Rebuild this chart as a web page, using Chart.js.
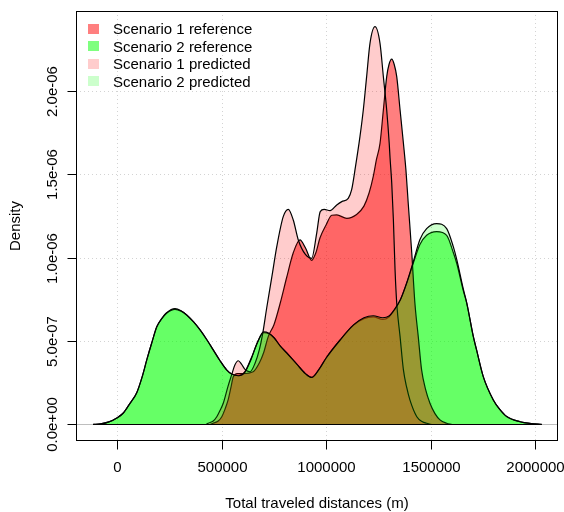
<!DOCTYPE html>
<html>
<head>
<meta charset="utf-8">
<script src="https://cdn.jsdelivr.net/npm/chart.js@4.4.1/dist/chart.umd.min.js"></script>
<style>
  html, body { margin: 0; padding: 0; background: #fff; }
</style>
</head>
<body>
<canvas id="densityChart" width="564" height="512"></canvas>
<script>
// distances in metres, densities in units of 1e-7 per metre
var DENSITY_UNIT = 1e-7;

var s1RefX = [445000, 459000, 483000, 500000, 515000, 531000, 545000, 555000, 575000, 600000,
    650000, 680000, 700000, 723000, 750000, 780000, 810000, 842000, 874000, 900000,
    930000, 950000, 970000, 1000000, 1026000, 1050000, 1098000, 1145000, 1180000, 1205000,
    1225000, 1240000, 1257000, 1273000, 1289000, 1300000, 1313000, 1325000, 1337000, 1353000,
    1369000, 1381000, 1392000, 1409000, 1424000, 1440000, 1456000, 1475000, 1496000, 1520000,
    1544000, 1576000, 1600000];
var s1RefY = [0, 0.07, 0.2, 0.46, 0.9, 1.5, 2.3, 2.86, 3.05, 3.05,
    3.16, 3.7, 4.3, 5.3, 6.0, 7.3, 8.8, 10.3, 11.07, 10.6,
    9.85, 10.3, 11.2, 12.0, 12.55, 12.57, 12.37, 12.6, 13.1, 13.9,
    14.9, 15.9, 16.87, 18.87, 20.87, 21.6, 21.92, 21.6, 20.87, 18.87,
    16.87, 15.27, 13.27, 10.27, 7.27, 5.27, 3.27, 2.1, 1.27, 0.65,
    0.27, 0.07, 0];

var s2RefX = [-115000, -80000, -40000, 0, 30000, 60000, 93000, 120000, 141000, 165000,
    189000, 210000, 236000, 276000, 305000, 332000, 365000, 396000, 430000, 459000,
    490000, 523000, 547000, 580000, 610000, 640000, 670000, 700000, 725000, 750000,
    780000, 810000, 860000, 900000, 930000, 965000, 1000000, 1065000, 1130000, 1180000,
    1225000, 1270000, 1300000, 1325000, 1355000, 1385000, 1416000, 1448000, 1480000, 1528000,
    1576000, 1608000, 1624000, 1656000, 1672000, 1703000, 1719000, 1751000, 1799000, 1830000,
    1863000, 1927000, 1980000, 2030000];
var s2RefY = [0, 0.03, 0.15, 0.4, 0.7, 1.25, 1.9, 2.9, 3.87, 4.9,
    5.86, 6.3, 6.67, 6.9, 6.8, 6.57, 6.15, 5.67, 5.05, 4.47,
    3.85, 3.27, 3.02, 2.92, 3.15, 3.95, 4.9, 5.5, 5.45, 5.2,
    4.7, 4.3, 3.6, 3.05, 2.82, 3.3, 4.0, 5.05, 5.95, 6.35,
    6.45, 6.3, 6.45, 6.85, 7.5, 8.5, 9.67, 10.8, 11.35, 11.57,
    11.35, 10.3, 9.67, 8.0, 7.27, 5.3, 4.47, 2.87, 1.47, 0.9,
    0.47, 0.16, 0.05, 0];

var s1PredX = [425000, 435000, 459000, 476000, 492000, 507000, 530000, 547000, 562000, 579000,
    595000, 611000, 635000, 660000, 680000, 695000, 715000, 740000, 763000, 794000,
    818000, 842000, 866000, 900000, 930000, 954000, 971000, 990000, 1018000, 1050000,
    1074000, 1105000, 1121000, 1140000, 1161000, 1177000, 1193000, 1209000, 1233000, 1257000,
    1273000, 1289000, 1301000, 1305000, 1313000, 1321000, 1329000, 1337000, 1353000, 1369000,
    1385000, 1400000, 1433000, 1460000, 1480000, 1500000];
var s1PredY = [0, 0.07, 0.2, 0.46, 0.85, 1.27, 2.3, 2.97, 3.55, 3.82,
    3.6, 3.3, 3.16, 3.7, 4.5, 5.4, 7.0, 8.9, 10.67, 12.47,
    12.91, 12.27, 11.07, 10.2, 9.97, 11.47, 12.77, 12.9, 12.83, 13.17,
    13.37, 13.57, 14.07, 15.5, 17.27, 18.87, 20.87, 22.87, 23.87, 22.87,
    20.87, 18.87, 16.87, 16.0, 14.5, 12.27, 9.27, 7.27, 5.27, 3.27,
    2.2, 1.47, 0.46, 0.16, 0.07, 0];

var s2PredX = [-115000, -80000, -40000, 0, 30000, 60000, 93000, 120000, 141000, 165000,
    189000, 210000, 236000, 276000, 305000, 332000, 365000, 396000, 430000, 459000,
    490000, 523000, 547000, 580000, 610000, 640000, 670000, 700000, 725000, 750000,
    780000, 810000, 860000, 900000, 930000, 965000, 1000000, 1065000, 1130000, 1180000,
    1225000, 1270000, 1300000, 1325000, 1355000, 1385000, 1416000, 1448000, 1480000, 1528000,
    1576000, 1608000, 1624000, 1656000, 1672000, 1703000, 1719000, 1751000, 1799000, 1830000,
    1863000, 1927000, 1980000, 2030000];
var s2PredY = [0, 0.03, 0.15, 0.4, 0.7, 1.25, 1.9, 2.9, 3.87, 4.9,
    5.86, 6.3, 6.7, 6.95, 6.82, 6.57, 6.15, 5.67, 5.05, 4.47,
    3.85, 3.27, 3.02, 2.92, 3.12, 3.9, 4.9, 5.55, 5.47, 5.2,
    4.7, 4.3, 3.6, 3.05, 2.82, 3.3, 4.0, 5.05, 5.97, 6.4,
    6.52, 6.4, 6.5, 6.88, 7.5, 8.5, 9.75, 11.1, 11.75, 12.05,
    11.75, 10.65, 9.9, 8.1, 7.3, 5.3, 4.47, 2.87, 1.47, 0.9,
    0.47, 0.16, 0.05, 0];

var seriesNames = ['Scenario 1 reference', 'Scenario 2 reference', 'Scenario 1 predicted', 'Scenario 2 predicted'];
var seriesColors = ['rgba(255,0,0,0.5)', 'rgba(0,255,0,0.5)', 'rgba(255,0,0,0.2)', 'rgba(0,255,0,0.2)'];
// R drew them green ref, red ref, pink, light green (last on top)
var seriesOrder = [2, 3, 1, 0];

var xTicks = [0, 500000, 1000000, 1500000, 2000000];
var xTickLabels = ['0', '500000', '1000000', '1500000', '2000000'];
var yTicks = [0, 5e-7, 1e-6, 1.5e-6, 2e-6];
var yTickLabels = ['0.0e+00', '5.0e-07', '1.0e-06', '1.5e-06', '2.0e-06'];

var xTitle = 'Total traveled distances (m)';
var yTitle = 'Density';

function toPoints(xs, ys) {
    return xs.map(function (x, i) { return { x: x, y: ys[i] * DENSITY_UNIT }; });
}

var allX = [s1RefX, s2RefX, s1PredX, s2PredX];
var allY = [s1RefY, s2RefY, s1PredY, s2PredY];

var font15 = '15px "Liberation Sans", Arial, Helvetica, sans-serif';

var rFrame = {
    id: 'rFrame',
    beforeDatasetsDraw: function (chart) {
        var ctx = chart.ctx, a = chart.chartArea;
        var xs = chart.scales.x, ys = chart.scales.y;
        ctx.save();
        ctx.beginPath();
        ctx.rect(a.left, a.top, a.right - a.left, a.bottom - a.top);
        ctx.clip();
        // dotted grid like grid()
        ctx.strokeStyle = '#d3d3d3';
        ctx.lineWidth = 1;
        ctx.setLineDash([1, 3]);
        xTicks.forEach(function (v) {
            var px = Math.round(xs.getPixelForValue(v)) + 0.5;
            ctx.beginPath(); ctx.moveTo(px, a.top); ctx.lineTo(px, a.bottom); ctx.stroke();
        });
        yTicks.forEach(function (v) {
            var py = Math.round(ys.getPixelForValue(v)) + 0.5;
            ctx.beginPath(); ctx.moveTo(a.left, py); ctx.lineTo(a.right, py); ctx.stroke();
        });
        ctx.setLineDash([]);
        // zero line
        ctx.strokeStyle = '#bebebe';
        var y0 = Math.round(ys.getPixelForValue(0)) + 0.5;
        ctx.beginPath(); ctx.moveTo(a.left, y0); ctx.lineTo(a.right, y0); ctx.stroke();
        ctx.restore();
    },
    afterDatasetsDraw: function (chart) {
        var ctx = chart.ctx, a = chart.chartArea;
        var xs = chart.scales.x, ys = chart.scales.y;
        ctx.save();
        ctx.strokeStyle = '#000';
        ctx.fillStyle = '#000';
        ctx.lineWidth = 1;

        // closing edge of each polygon along the baseline
        var y0 = Math.round(ys.getPixelForValue(0)) + 0.5;
        allX.forEach(function (arr) {
            ctx.beginPath();
            ctx.moveTo(xs.getPixelForValue(arr[0]), y0);
            ctx.lineTo(xs.getPixelForValue(arr[arr.length - 1]), y0);
            ctx.stroke();
        });

        // box
        ctx.strokeRect(Math.round(a.left) + 0.5, Math.round(a.top) + 0.5,
            Math.round(a.right - a.left) - 1, Math.round(a.bottom - a.top) - 1);

        ctx.font = font15;
        ctx.textBaseline = 'alphabetic';
        ctx.textAlign = 'center';

        // x axis
        var bx = Math.round(a.bottom) - 0.5;
        xTicks.forEach(function (v, i) {
            var px = Math.round(xs.getPixelForValue(v)) + 0.5;
            ctx.beginPath(); ctx.moveTo(px, bx); ctx.lineTo(px, bx + 9); ctx.stroke();
            ctx.fillText(xTickLabels[i], px, 472);
        });
        ctx.fillText(xTitle, (a.left + a.right) / 2, 508);

        // y axis
        var lx = Math.round(a.left) + 0.5;
        yTicks.forEach(function (v, i) {
            var py = Math.round(ys.getPixelForValue(v)) + 0.5;
            ctx.beginPath(); ctx.moveTo(lx, py); ctx.lineTo(lx - 9, py); ctx.stroke();
            ctx.save();
            ctx.translate(57, py);
            ctx.rotate(-Math.PI / 2);
            ctx.fillText(yTickLabels[i], 0, 0);
            ctx.restore();
        });
        ctx.save();
        ctx.translate(20, (a.top + a.bottom) / 2);
        ctx.rotate(-Math.PI / 2);
        ctx.fillText(yTitle, 0, 0);
        ctx.restore();

        // legend, top left inside the box
        ctx.textAlign = 'left';
        seriesNames.forEach(function (name, i) {
            var cy = 28.5 + i * 17.6;
            ctx.fillStyle = seriesColors[i];
            ctx.fillRect(88, Math.round(cy - 5), 11, 10);
            ctx.fillStyle = '#000';
            ctx.fillText(name, 113, cy + 5.5);
        });
        ctx.restore();
    }
};

var datasets = seriesNames.map(function (name, i) {
    return {
        label: name,
        data: toPoints(allX[i], allY[i]),
        backgroundColor: seriesColors[i],
        borderColor: '#000',
        borderWidth: 1.2,
        fill: 'origin',
        pointRadius: 0,
        cubicInterpolationMode: 'monotone',
        order: seriesOrder[i]
    };
});

new Chart(document.getElementById('densityChart'), {
    type: 'line',
    data: { datasets: datasets },
    options: {
        responsive: false,
        animation: false,
        events: [],
        layout: { padding: { left: 76, top: 11, right: 6, bottom: 71 } },
        plugins: {
            legend: { display: false },
            tooltip: { enabled: false }
        },
        scales: {
            x: { type: 'linear', display: false, min: -197600, max: 2108600 },
            y: { type: 'linear', display: false, min: -0.0996e-6, max: 2.481e-6 }
        }
    },
    plugins: [rFrame]
});
</script>
</body>
</html>
